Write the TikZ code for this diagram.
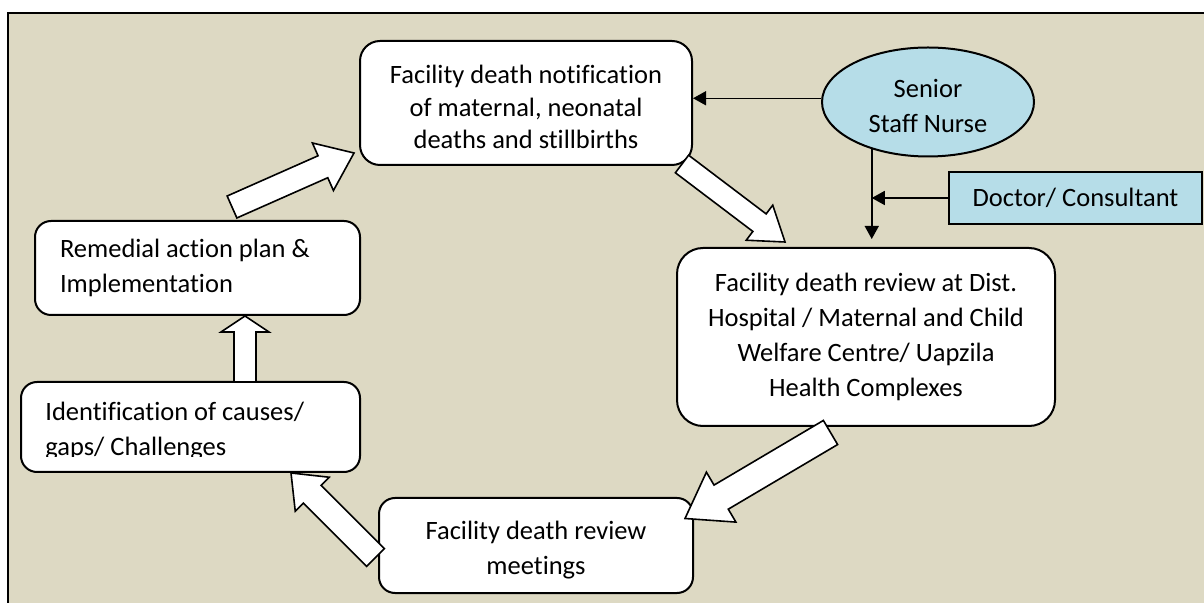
\documentclass[tikz,border=0pt]{standalone}
\usepackage{fontspec}
\setmainfont{Carlito}[Ligatures=NoCommon]
\usepackage{tikz}
\usetikzlibrary{positioning,calc,shapes.geometric,arrows.meta}
\definecolor{panel}{HTML}{DDD9C3}
\definecolor{paleblue}{HTML}{B6DDE8}
\newcommand{\boxfont}{\fontsize{13.25}{17.5}\selectfont}
\newcommand{\sink}{\rule{0pt}{13.5pt}}% taller first line pushes text down
\tikzset{%
  stage/.style={draw=black, line width=1pt, fill=white, rounded corners=8pt,
    inner sep=2pt, align=center, font=\boxfont},
  staff/.style={draw=black, line width=1pt, fill=paleblue, inner sep=2pt,
    align=center, font=\boxfont},
  flow/.style={draw=black, line width=0.8pt, fill=white, line join=miter},
  feed/.style={draw=black, line width=0.75pt, -{Triangle[length=6.5pt,width=7pt]}}
}
% hollow block arrow: from, to, half shaft, half head, head length
\newcommand{\blockarrow}[5]{%
  \coordinate (hb) at ($(#2)!#5!(#1)$);
  \draw[flow] ($(#1)!#3!90:(#2)$) -- ($(hb)!#3!-90:(#1)$) -- ($(hb)!#4!-90:(#1)$)
    -- (#2) -- ($(hb)!#4!90:(#1)$) -- ($(hb)!#3!90:(#1)$) -- ($(#1)!#3!-90:(#2)$) -- cycle;}

\begin{document}
\begin{tikzpicture}[x=0.5pt, y=-0.5pt]

  \useasboundingbox (0,0) rectangle (1204,603);
  \clip (0,0) rectangle (1204,603);
  \fill[white] (0,0) rectangle (1204,603);
  \draw[line width=1pt, fill=panel] (8,13) rectangle (1240,640);

  % cycle of stages
  \node[stage, rounded corners=10pt, minimum width=166pt, minimum height=62pt,
    font=\fontsize{13.25}{16.25}\selectfont] (notif) at (526,103)
    {\sink Facility death notification\\of maternal, neonatal\\deaths and stillbirths};
  \node[stage, rounded corners=13pt, minimum width=189pt, minimum height=89pt] (review) at (866,337)
    {Facility death review at Dist.\\Hospital / Maternal and Child\\Welfare Centre/ Uapzila\\Health Complexes};
  \node[stage, minimum width=157pt, minimum height=47.5pt] (meeting) at (536,545.5)
    {\sink Facility death review\\meetings};
  \node[stage, minimum width=169.5pt, minimum height=45pt] (gaps) at (190.5,427) {};
  \begin{scope}
    \clip (21,382) rectangle (360,456.5);
    \node[font=\boxfont, align=flush left, inner sep=0pt, anchor=base west] (gapstext) at (45,456)
      {Identification of causes/\\gaps/ Challenges};
  \end{scope}
  \node[stage, align=flush left, inner xsep=12.5pt, text width=137.5pt, minimum height=47pt] (remedy) at (197.5,268)
    {Remedial action plan \&\\Implementation};

  % reviewers
  \node[staff, ellipse, inner sep=0pt, minimum width=106pt, minimum height=54.5pt] (nurse) at (928,102)
    {\sink Senior\\Staff Nurse};
  \node[staff, minimum width=126.5pt, minimum height=26pt] (doctor) at (1075.5,198) {Doctor/ Consultant};

  \coordinate (join) at ($(nurse.-140 |- review.north)+(0,-8)$);
  \draw[feed] (nurse.178) -- (nurse.178 -| notif.east);
  \draw[feed] (nurse.-140) -- (join);
  \draw[feed] (doctor.west) -- (doctor.west -| join);

  % block arrows between stages
  \coordinate (remedy-out) at (232,207);
  \coordinate (notif-in) at (354,153);
  \coordinate (notif-out) at (682,164);
  \coordinate (review-in) at (785,242);
  \coordinate (review-out) at (830.5,432.5);
  \coordinate (meeting-in) at (685,518.5);
  \coordinate (meeting-out) at (375.5,557.5);
  \coordinate (gaps-in) at (291,473);
  \coordinate (gaps-out) at (245,382);
  \coordinate (remedy-in) at (245,316);

  \blockarrow{remedy-out}{notif-in}{6pt}{13pt}{17pt}
  \blockarrow{notif-out}{review-in}{5.5pt}{11pt}{16pt}
  \blockarrow{review-out}{meeting-in}{7pt}{14.5pt}{21pt}
  \blockarrow{meeting-out}{gaps-in}{6.3pt}{12pt}{15pt}
  \blockarrow{gaps-out}{remedy-in}{5.5pt}{12pt}{8pt}

\end{tikzpicture}
\end{document}
